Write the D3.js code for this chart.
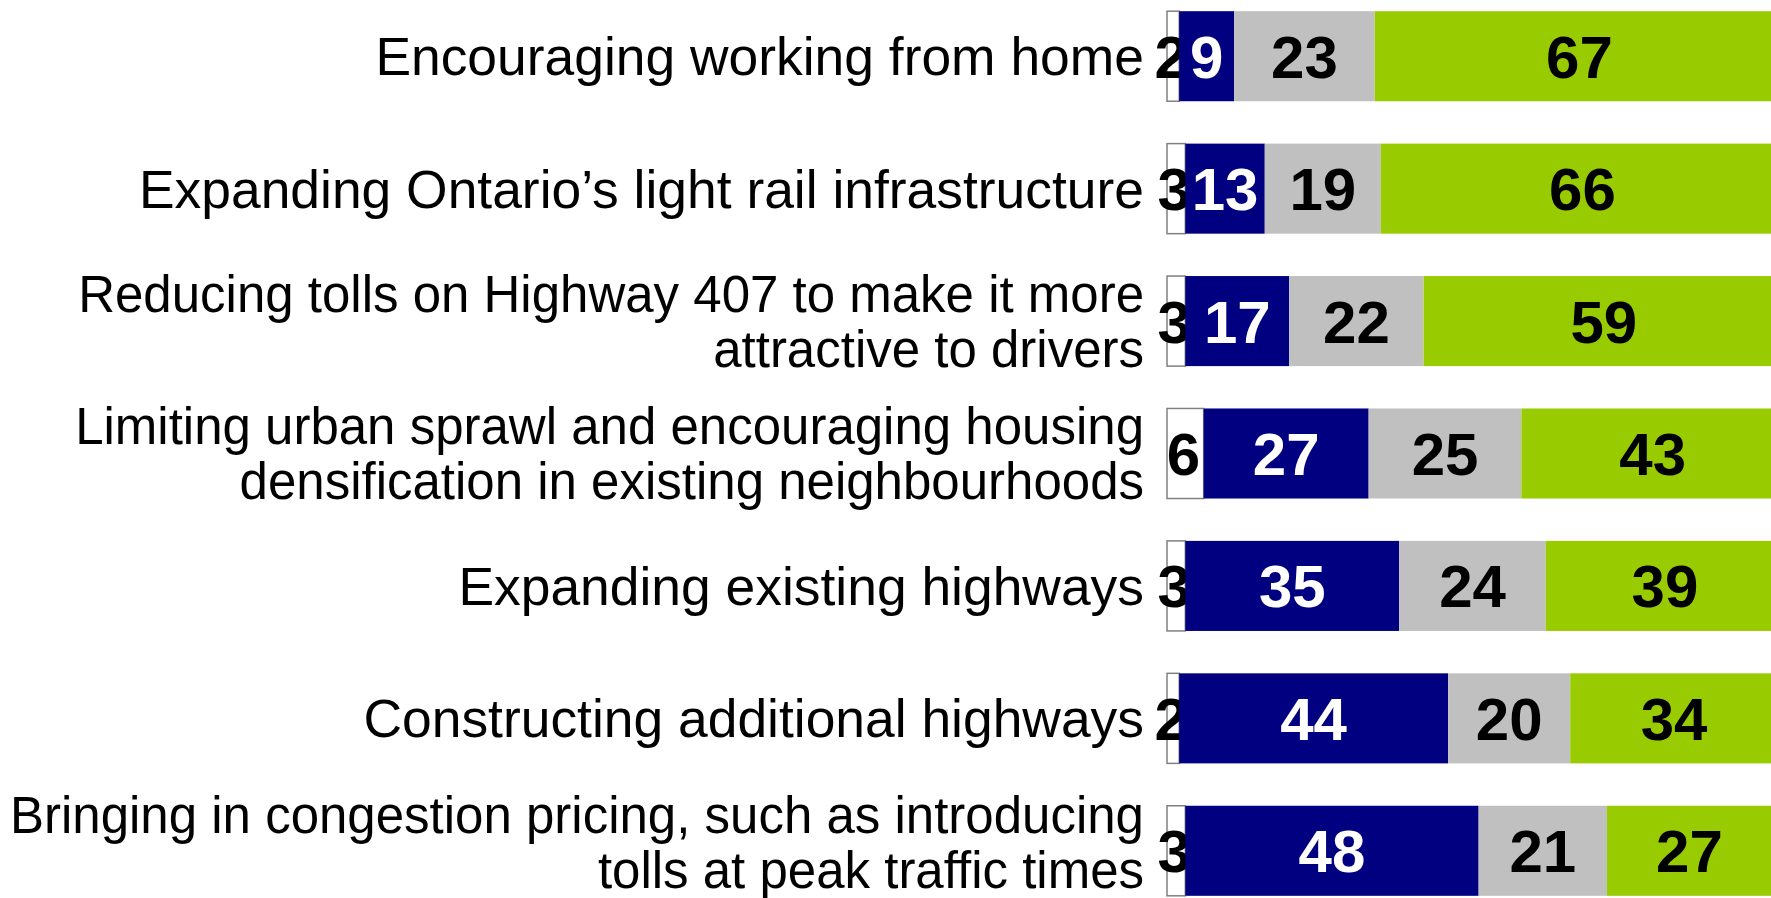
<!DOCTYPE html>
<html>
<head>
<meta charset="utf-8">
<script src="https://cdn.jsdelivr.net/npm/d3@7"></script>
<style>
  body { margin: 0; background: #fff; }
  svg { display: block; }
</style>
</head>
<body>
<div id="main-graph"></div>
<script>
// Categories (line breaks marked with "|")
const categories = [
    "Encouraging working from home",
    "Expanding Ontario’s light rail infrastructure",
    "Reducing tolls on Highway 407 to make it more|attractive to drivers",
    "Limiting urban sprawl and encouraging housing|densification in existing neighbourhoods",
    "Expanding existing highways",
    "Constructing additional highways",
    "Bringing in congestion pricing, such as introducing|tolls at peak traffic times"
];

// Series values, left to right in each bar
const dontKnow = [2, 3, 3, 6, 3, 2, 3];
const oppose   = [9, 13, 17, 27, 35, 44, 48];
const neutral  = [23, 19, 22, 25, 24, 20, 21];
const support  = [67, 66, 59, 43, 39, 34, 27];

const seriesKeys = ["dontKnow", "oppose", "neutral", "support"];
const colors = {dontKnow: "#ffffff", oppose: "#000080", neutral: "#c0c0c0", support: "#99cc00"};
const labelColors = {dontKnow: "#000", oppose: "#fff", neutral: "#000", support: "#000"};

// build table for the stack
let table = categories.map((c, i) => ({
    category: c,
    dontKnow: dontKnow[i],
    oppose: oppose[i],
    neutral: neutral[i],
    support: support[i]
}));

const width = 1771, height = 898;
const font = "Liberation Sans, Arial, sans-serif";

var svg = d3.select("#main-graph")
    .append("svg")
        .attr("width", width)
        .attr("height", height);

// x scale: percent -> pixels (bars run off the right edge)
var x = d3.scaleLinear()
    .domain([0, 100])
    .range([1167, 1778]);

// y scale: one band per statement
var y = d3.scaleBand()
    .domain(categories)
    .range([-10, 917])
    .paddingInner(0.32)
    .paddingOuter(0.16);

var stacked = d3.stack().keys(seriesKeys)(table);

// Draw the segments
var layers = svg.append("g")
    .selectAll("g")
    .data(stacked)
    .enter()
    .append("g")
    .attr("fill", d => colors[d.key]);

layers.selectAll("rect")
    .data(d => d.map(p => Object.assign(p, {key: d.key})))
    .enter()
    .append("rect")
    .attr("x", d => x(d[0]))
    .attr("y", d => y(d.data.category))
    .attr("width", d => x(d[1]) - x(d[0]))
    .attr("height", y.bandwidth())
    .attr("stroke", d => d.key === "dontKnow" ? "#808080" : "none")
    .attr("stroke-width", 1.5);

// value labels
layers.selectAll("text")
    .data(d => d)
    .enter()
    .append("text")
    .attr("x", d => (x(d[0]) + x(d[1])) / 2 - (d.key === "dontKnow" ? 2 : 0))
    .attr("y", d => y(d.data.category) + y.bandwidth() / 2 + 21.5)
    .attr("text-anchor", "middle")
    .attr("font-family", font)
    .attr("font-weight", "bold")
    .attr("font-size", "60px")
    .attr("fill", d => labelColors[d.key])
    .text(d => d[1] - d[0]);

// category labels on the left (two-line ones are set a bit smaller)
var catLabels = svg.append("g")
    .selectAll("text")
    .data(categories)
    .enter()
    .append("text")
    .attr("text-anchor", "end")
    .attr("font-family", font)
    .attr("font-size", c => c.includes("|") ? "51px" : "53.4px")
    .attr("fill", "#000");

catLabels.each(function(c) {
    let lines = c.split("|");
    let mid = y(c) + y.bandwidth() / 2;
    let lineH = 55;
    let shift = lines.length > 1 ? 18 : 19;
    let top = mid + shift - (lines.length - 1) / 2 * lineH;
    // keep the last baseline inside the frame
    let lastBase = top + (lines.length - 1) * lineH;
    if (lastBase > height - 10) top -= lastBase - (height - 10);
    lines.forEach((ln, i) => {
        d3.select(this).append("tspan")
            .attr("x", 1144)
            .attr("y", top + i * lineH)
            .text(ln);
    });
});
</script>
</body>
</html>
